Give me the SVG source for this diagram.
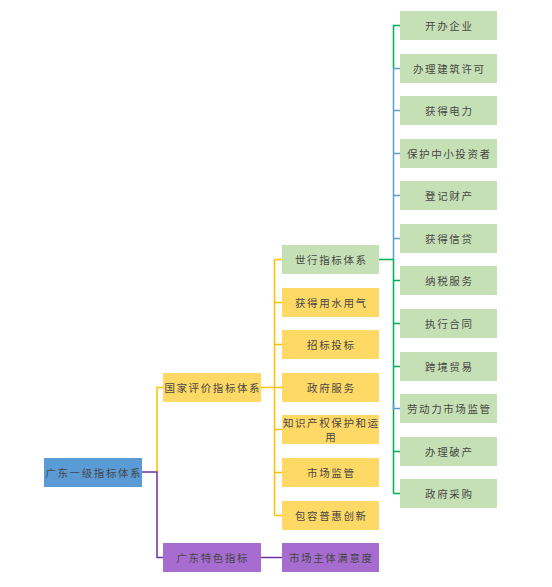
<svg xmlns="http://www.w3.org/2000/svg" width="552" height="587" viewBox="0 0 552 587">
<style>
.t{font-family:"Noto Sans CJK SC","Liberation Sans",sans-serif;font-size:10.5px;letter-spacing:1.6px;fill:#474747;text-anchor:middle;dominant-baseline:central}
.b{fill:#5B9BD5}.y{fill:#FFD966}.g{fill:#C5E0B4}.p{fill:#A66CCF}
.c{fill:none;stroke-width:1.5}
.cy{stroke:#FFC000}.cp{stroke:#7030A0}.cg{stroke:#00B050}.cb{stroke:#5B9BD5}
</style>
<rect width="552" height="587" fill="#ffffff"/>
<g id="connectors">
<path class="c cy" d="M157 472V387.5H163"/>
<path class="c cp" d="M142 472H157V557.5H163"/>
<path class="c cp" d="M261 557.5H282"/>
<path class="c cy" d="M261 387.5H274.5M274.5 259.5V515.5M274.5 259.5H282M274.5 302.5H282M274.5 344.5H282M274.5 387.5H282M274.5 429.5H282M274.5 472.5H282M274.5 515.5H282"/>
<path class="c cg" d="M400 25.5H393.5V68.5"/>
<path class="c cb" d="M393.5 68.5V259.5M393.5 68.5H400M393.5 110.5H400M393.5 153.5H400M393.5 195.5H400M393.5 238.5H400"/>
<path class="c cg" d="M379 259.5H393.5V493.5M393.5 280.5H400M393.5 323.5H400M393.5 366.5H400M393.5 451.5H400M393.5 493.5H400"/>
<path class="c cb" d="M393.5 402V408.5H400"/>
</g>
<g id="n0"><rect class="b" x="44" y="458" width="98" height="29"/><text class="t" x="93.8" y="472.5">广东一级指标体系</text></g>
<g id="n1"><rect class="y" x="163" y="373" width="98" height="29"/><text class="t" x="212.8" y="387.5">国家评价指标体系</text></g>
<g id="n2"><rect class="p" x="163" y="543" width="98" height="29"/><text class="t" x="212.8" y="557.5">广东特色指标</text></g>
<g id="n3"><rect class="g" x="282" y="245" width="97" height="29"/><text class="t" x="331.3" y="259.5">世行指标体系</text></g>
<g id="n4"><rect class="y" x="282" y="288" width="97" height="29"/><text class="t" x="331.3" y="302.5">获得用水用气</text></g>
<g id="n5"><rect class="y" x="282" y="330" width="97" height="29"/><text class="t" x="331.3" y="344.5">招标投标</text></g>
<g id="n6"><rect class="y" x="282" y="373" width="97" height="29"/><text class="t" x="331.3" y="387.5">政府服务</text></g>
<g id="n7"><rect class="y" x="282" y="415" width="97" height="29"/><text class="t" x="331.3" y="422">知识产权保护和运</text><text class="t" x="331.3" y="436">用</text></g>
<g id="n8"><rect class="y" x="282" y="458" width="97" height="29"/><text class="t" x="331.3" y="472.5">市场监管</text></g>
<g id="n9"><rect class="y" x="282" y="501" width="97" height="29"/><text class="t" x="331.3" y="515.5">包容普惠创新</text></g>
<g id="n10"><rect class="p" x="282" y="543" width="97" height="29"/><text class="t" x="331.3" y="557.5">市场主体满意度</text></g>
<g id="r1"><rect class="g" x="400" y="11" width="97" height="29"/><text class="t" x="449.3" y="25.5">开办企业</text></g>
<g id="r2"><rect class="g" x="400" y="54" width="97" height="29"/><text class="t" x="449.3" y="68.5">办理建筑许可</text></g>
<g id="r3"><rect class="g" x="400" y="96" width="97" height="29"/><text class="t" x="449.3" y="110.5">获得电力</text></g>
<g id="r4"><rect class="g" x="400" y="139" width="97" height="29"/><text class="t" x="449.3" y="153.5">保护中小投资者</text></g>
<g id="r5"><rect class="g" x="400" y="181" width="97" height="29"/><text class="t" x="449.3" y="195.5">登记财产</text></g>
<g id="r6"><rect class="g" x="400" y="224" width="97" height="29"/><text class="t" x="449.3" y="238.5">获得信贷</text></g>
<g id="r7"><rect class="g" x="400" y="266" width="97" height="29"/><text class="t" x="449.3" y="280.5">纳税服务</text></g>
<g id="r8"><rect class="g" x="400" y="309" width="97" height="29"/><text class="t" x="449.3" y="323.5">执行合同</text></g>
<g id="r9"><rect class="g" x="400" y="352" width="97" height="29"/><text class="t" x="449.3" y="366.5">跨境贸易</text></g>
<g id="r10"><rect class="g" x="400" y="394" width="97" height="29"/><text class="t" x="449.3" y="408.5">劳动力市场监管</text></g>
<g id="r11"><rect class="g" x="400" y="437" width="97" height="29"/><text class="t" x="449.3" y="451.5">办理破产</text></g>
<g id="r12"><rect class="g" x="400" y="479" width="97" height="29"/><text class="t" x="449.3" y="493.5">政府采购</text></g>
</svg>
